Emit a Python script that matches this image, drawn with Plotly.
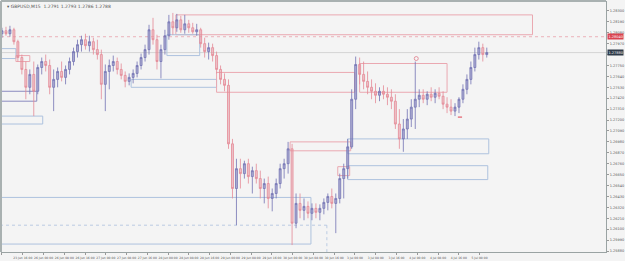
import plotly.graph_objects as go

# ---- data (prices) ----
opens = [1.2807,1.2810,1.2807,1.2811,1.2799,1.2783,1.2771,1.2753,1.2766,1.2749,
         1.2773,1.2779,1.2775,1.2753,1.2761,1.2769,1.2763,1.2771,1.2779,1.2789,
         1.2796,1.2801,1.2795,1.2799,1.2791,1.2786,1.2756,1.2769,1.2775,1.2779,
         1.2771,1.2765,1.2759,1.2763,1.2767,1.2775,1.2783,1.2791,1.2811,1.2801,
         1.2779,1.2791,1.2805,1.2819,1.2813,1.2821,1.2811,1.2817,1.2813,1.2809,
         1.2811,1.2797,1.2789,1.2793,1.2785,1.2771,1.2761,1.2755,1.2696,1.2651,
         1.2671,1.2666,1.2676,1.2663,1.2669,1.2661,1.2651,1.2656,1.2641,1.2646,
         1.2656,1.2671,1.2676,1.2691,1.2616,1.2636,1.2629,1.2633,1.2626,1.2631,
         1.2627,1.2631,1.2637,1.2643,1.2636,1.2641,1.2661,1.2671,1.2693,1.2741,
         1.2776,1.2766,1.2759,1.2753,1.2749,1.2745,1.2749,1.2746,1.2743,1.2739,
         1.2716,1.2701,1.2711,1.2721,1.2733,1.2741,1.2745,1.2741,1.2746,1.2743,
         1.2747,1.2744,1.2736,1.2733,1.2729,1.2733,1.2741,1.2751,1.2761,1.2773,
         1.2786,1.2793,1.2786]
highs = [1.2813,1.2814,1.2815,1.2813,1.2801,1.2786,1.2779,1.2771,1.2779,1.2776,
         1.2783,1.2786,1.2781,1.2771,1.2773,1.2779,1.2775,1.2783,1.2793,1.2801,
         1.2805,1.2807,1.2805,1.2803,1.2801,1.2791,1.2776,1.2781,1.2785,1.2783,
         1.2777,1.2769,1.2767,1.2771,1.2779,1.2787,1.2796,1.2816,1.2823,1.2806,
         1.2796,1.2811,1.2826,1.2828,1.2827,1.2825,1.2826,1.2821,1.2818,1.2817,
         1.2813,1.2803,1.2798,1.2797,1.2789,1.2775,1.2767,1.2761,1.2701,1.2681,
         1.2681,1.2679,1.2681,1.2673,1.2676,1.2669,1.2661,1.2663,1.2651,1.2661,
         1.2676,1.2681,1.2698,1.2696,1.2646,1.2646,1.2641,1.2638,1.2636,1.2636,
         1.2635,1.2641,1.2646,1.2651,1.2646,1.2666,1.2676,1.2701,1.2751,1.2784,
         1.2783,1.2779,1.2769,1.2761,1.2757,1.2753,1.2755,1.2753,1.2751,1.2746,
         1.2731,1.2721,1.2731,1.2741,1.2779,1.2751,1.2751,1.2749,1.2753,1.2751,
         1.2753,1.2749,1.2743,1.2741,1.2737,1.2743,1.2756,1.2766,1.2779,1.2793,
         1.2799,1.2797,1.2793]
lows = [1.2803,1.2805,1.2804,1.2796,1.2779,1.2766,1.2741,1.2746,1.2724,1.2746,
        1.2766,1.2769,1.2746,1.2729,1.2753,1.2759,1.2756,1.2766,1.2775,1.2783,
        1.2789,1.2791,1.2789,1.2786,1.2781,1.2741,1.2729,1.2751,1.2769,1.2766,
        1.2761,1.2753,1.2755,1.2757,1.2763,1.2771,1.2779,1.2786,1.2796,1.2771,
        1.2762,1.2786,1.2801,1.2806,1.2809,1.2808,1.2807,1.2808,1.2807,1.2805,
        1.2793,1.2783,1.2781,1.2779,1.2767,1.2756,1.2749,1.2691,1.2641,1.2614,
        1.2651,1.2661,1.2656,1.2646,1.2656,1.2641,1.2636,1.2631,1.2628,1.2641,
        1.2651,1.2661,1.2666,1.2594,1.2611,1.2621,1.2619,1.2621,1.2619,1.2621,
        1.2619,1.2625,1.2629,1.2631,1.2606,1.2636,1.2641,1.2661,1.2691,1.2731,
        1.2756,1.2751,1.2746,1.2741,1.2737,1.2739,1.2741,1.2735,1.2731,1.2711,
        1.2691,1.2688,1.2701,1.2713,1.2711,1.2733,1.2737,1.2735,1.2739,1.2737,
        1.2741,1.2731,1.2727,1.2725,1.2724,1.2727,1.2737,1.2746,1.2756,1.2769,
        1.2781,1.2779,1.2783]
closes = [1.2810,1.2807,1.2811,1.2799,1.2783,1.2771,1.2753,1.2766,1.2749,1.2773,
          1.2779,1.2775,1.2753,1.2761,1.2769,1.2763,1.2771,1.2779,1.2789,1.2796,
          1.2801,1.2795,1.2799,1.2791,1.2786,1.2756,1.2769,1.2775,1.2779,1.2771,
          1.2765,1.2759,1.2763,1.2767,1.2775,1.2783,1.2791,1.2811,1.2801,1.2779,
          1.2791,1.2805,1.2819,1.2813,1.2821,1.2811,1.2817,1.2813,1.2809,1.2811,
          1.2797,1.2789,1.2793,1.2785,1.2771,1.2761,1.2755,1.2696,1.2651,1.2671,
          1.2666,1.2676,1.2663,1.2669,1.2661,1.2651,1.2656,1.2641,1.2646,1.2656,
          1.2671,1.2676,1.2691,1.2616,1.2636,1.2629,1.2633,1.2626,1.2631,1.2627,
          1.2631,1.2637,1.2643,1.2636,1.2641,1.2661,1.2671,1.2693,1.2741,1.2776,
          1.2766,1.2759,1.2753,1.2749,1.2745,1.2749,1.2746,1.2743,1.2739,1.2716,
          1.2701,1.2711,1.2721,1.2733,1.2741,1.2745,1.2741,1.2746,1.2743,1.2747,
          1.2744,1.2736,1.2733,1.2729,1.2733,1.2741,1.2751,1.2761,1.2773,1.2786,
          1.2793,1.2786,1.2788]
bar_index = list(range(len(closes)))

time_labels = ["23 Jun 2023", "23 Jun 16:00", "26 Jun 00:00", "26 Jun 08:00", "26 Jun 16:00",
               "27 Jun 00:00", "27 Jun 08:00", "27 Jun 16:00", "28 Jun 00:00", "28 Jun 08:00",
               "28 Jun 16:00", "29 Jun 00:00", "29 Jun 08:00", "29 Jun 16:00", "30 Jun 00:00",
               "30 Jun 08:00", "30 Jun 16:00", "3 Jul 00:00", "3 Jul 08:00", "3 Jul 16:00",
               "4 Jul 00:00", "4 Jul 08:00", "4 Jul 16:00", "5 Jul 00:00"]
time_label_bars = [5.225 * k for k in range(len(time_labels))]

level_line = 1.2804
bid_price = 1.2788

price_ticks = [round(1.2588 + 0.0011 * k, 4) for k in range(23)]
# the tick label hidden under the bid-price marker is left blank
price_tick_text = ["" if abs(v - bid_price) < 0.0006 else "%.5f" % v for v in price_ticks]

# zones: (bar_from, bar_to, price_top, price_bottom, kind)
zones = [
    (43.75, 133.5, 1.2826, 1.2806, "supply"),
    (32.5, 54.0, 1.2761, 1.2753, "demand"),
    (41.5, 49.75, 1.2806, 1.2785, "demand"),
    (54.0, 88.75, 1.2768, 1.2748, "supply"),
    (90.0, 112.0, 1.2777, 1.2748, "supply"),
    (-0.5, 10.25, 1.2724, 1.2716, "demand"),
    (-0.5, 8.75, 1.2749, 1.2739, "dark"),
    (-0.5, 3.5, 1.2792, 1.2782, "demand"),
    (3.5, 7.0, 1.2785, 1.2779, "supply"),
    (72.5, 87.75, 1.2698, 1.2689, "supply"),
    (87.0, 122.5, 1.2701, 1.2686, "demand"),
    (84.5, 87.5, 1.2673, 1.2664, "supply"),
    (87.0, 122.25, 1.2674, 1.2660, "demand"),
    (-0.5, 77.75, 1.2642, 1.2595, "demand"),
]
dotted_level = (81.75, 1.2614)
signal_up = (104.25, 1.2782)
signal_dn = (115.25, 1.2723)

zone_colors = {"supply": "#eaa8b1", "demand": "#adc2de", "dark": "#8c8cc0"}

fig = go.Figure()
fig.add_trace(go.Candlestick(
    x=bar_index, open=opens, high=highs, low=lows, close=closes,
    increasing=dict(line=dict(color="#7272b4", width=0.8), fillcolor="rgba(114,114,180,0.55)"),
    decreasing=dict(line=dict(color="#e58996", width=0.8), fillcolor="rgba(229,137,150,0.45)"),
    whiskerwidth=0, showlegend=False, hoverinfo="skip"))

fig.add_trace(go.Scatter(x=[signal_up[0]], y=[signal_up[1]], mode="markers",
                         marker=dict(symbol="circle-open", size=4, color="#e07c8a", line=dict(width=0.8)),
                         showlegend=False, hoverinfo="skip"))
fig.add_trace(go.Scatter(x=[signal_dn[0]], y=[signal_dn[1]], mode="markers",
                         marker=dict(symbol="line-ew", size=3, color="#e04050", line=dict(width=1, color="#e04050")),
                         showlegend=False, hoverinfo="skip"))

for x0, x1, top, bot, kind in zones:
    fig.add_shape(type="rect", x0=x0, x1=x1, y0=bot, y1=top, xref="x", yref="y",
                  line=dict(color=zone_colors[kind], width=1), fillcolor="rgba(0,0,0,0)", layer="below")

fig.add_shape(type="line", xref="paper", x0=0, x1=1, yref="y", y0=bid_price, y1=bid_price,
              line=dict(color="#d4d4d4", width=1), layer="below")
fig.add_shape(type="line", xref="paper", x0=0, x1=1, yref="y", y0=level_line, y1=level_line,
              line=dict(color="#e9a0aa", width=0.8, dash="dot"), layer="below")
fig.add_shape(type="line", x0=-0.5, x1=dotted_level[0], y0=dotted_level[1], y1=dotted_level[1],
              line=dict(color="#adc2de", width=0.8, dash="dot"), layer="below")
fig.add_shape(type="line", x0=dotted_level[0], x1=dotted_level[0], y0=dotted_level[1], y1=1.2586,
              line=dict(color="#adc2de", width=0.8, dash="dot"), layer="below")
# chart frame (top and left)
fig.add_shape(type="line", xref="paper", yref="paper", x0=0, x1=1, y0=1, y1=1,
              line=dict(color="#a9b1b1", width=2))
fig.add_shape(type="line", xref="paper", yref="paper", x0=0, x1=0, y0=0, y1=1,
              line=dict(color="#a9b1b1", width=2))

fig.add_annotation(xref="paper", yref="paper", x=0.006, y=0.995, xanchor="left", yanchor="top",
                   text="▾ GBPUSD,M15  1.2791 1.2793 1.2786 1.2788", showarrow=False,
                   font=dict(size=4.5, color="#555", family="DejaVu Sans"))
fig.add_annotation(xref="paper", x=1.002, xanchor="left", y=level_line, yref="y",
                   text="%.5f" % level_line, showarrow=False, bgcolor="#d9434f",
                   font=dict(size=3.5, color="white", family="DejaVu Sans"), borderpad=0.5)
fig.add_annotation(xref="paper", x=1.002, xanchor="left", y=bid_price, yref="y",
                   text="%.5f" % bid_price, showarrow=False, bgcolor="#2f3a48",
                   font=dict(size=3.5, color="white", family="DejaVu Sans"), borderpad=0.5)

fig.update_layout(
    width=625, height=261,
    margin=dict(l=1, r=15, t=1, b=7),
    paper_bgcolor="#f4f4f4", plot_bgcolor="#f4f4f4",
    font=dict(family="DejaVu Sans", size=3.5, color="#555"),
    xaxis=dict(range=[-0.25, 152.0], rangeslider=dict(visible=False), showgrid=False, zeroline=False,
               tickvals=time_label_bars, ticktext=time_labels, ticks="outside", ticklen=2,
               tickangle=0, tickcolor="#999", tickfont=dict(size=3, color="#555"), showline=True,
               linecolor="#9aa3a3", linewidth=1),
    yaxis=dict(range=[1.2587, 1.2840], side="right", showgrid=False, zeroline=False,
               tickvals=price_ticks, ticktext=price_tick_text, ticks="outside", ticklen=2,
               tickcolor="#999", tickfont=dict(size=3.5, color="#555"), showline=True,
               linecolor="#9aa3a3", linewidth=1),
)

fig.write_html("out.html")
